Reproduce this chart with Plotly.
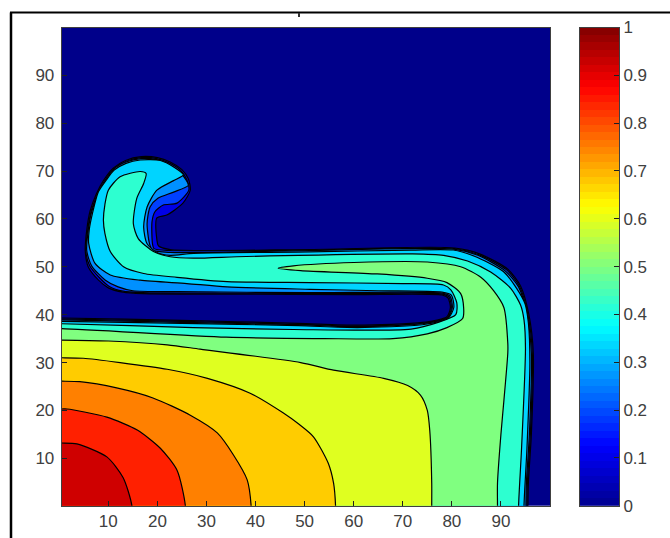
import plotly.graph_objects as go

# Contour outlines, in data units (x, y)
level_1 = [(0.5,39.3),(25,38.8),(48.7,38.2),(60.8,37.8),(74,38.4),(79,39.6),(79.7,41.5),(79.2,43.5),(78,44.1),(60,44.2),(34,44.3),(17,44.4),(13,44.7),(10,45.6),(8,47.2),(5.9,50),(5.3,53.4),(5.6,57.6),(6.3,61.7),(7.6,65.3),(9,68),(11,70.6),(13.5,72.2),(16.7,73),(20,72.8),(22.6,71.9),(25,70.3),(26.3,68.4),(26.7,66),(25.2,63.3),(21.9,60.8),(19.9,60.2),(19.9,55.6),(20.2,54.4),(22.6,53.6),(51.1,53.6),(80.6,53.9),(85.9,52.6),(91.4,49.5),(94,46),(95.7,40),(96.6,32),(96.2,15),(95.6,5),(95.5,0.1)]
level_2 = [(0.5,39.1),(25,38.6),(48.7,38),(60.8,37.6),(74,38.2),(79.2,39.5),(79.9,41.5),(79.4,43.7),(78,44.3),(60,44.4),(34,44.5),(17,44.6),(13,44.9),(10.2,45.9),(8.4,47.5),(6.2,50.2),(5.4,53.4),(5.8,57.6),(6.5,61.6),(7.8,65.2),(9.2,67.9),(11.1,70.5),(13.6,72),(16.7,72.8),(19.9,72.6),(22.4,71.7),(24.8,70.1),(26,68.2),(26.4,66),(24,63.3),(21.2,62.9),(19.5,61.5),(18.9,59.4),(19,54.8),(19.3,53.8),(22.6,53.4),(51.1,53.5),(80.5,53.8),(85.6,52.5),(91.1,49.4),(93.8,45.9),(95.5,40),(96.4,32),(96,15),(95.4,5),(95.3,0.1)]
level_3 = [(0.5,38.9),(25,38.4),(48.7,37.9),(60.8,37.5),(74,38.1),(79.2,39.4),(80.1,41.5),(79.6,43.9),(78,44.5),(51.1,44.6),(24,44.8),(15,45),(12,45.8),(9.4,47.2),(6.6,50.2),(5.6,53.4),(5.9,57.6),(6.6,61.5),(7.9,65.1),(9.3,67.8),(11.1,70.4),(13.6,71.9),(16.6,72.6),(19.8,72.4),(22,71.5),(24.5,69.9),(25.8,68.2),(26.3,67),(23.3,65.6),(20.1,64.3),(18.5,62.5),(17.9,59),(18.4,54.8),(19,53.5),(22.6,53),(51.1,53.4),(80.4,53.7),(85.3,52.4),(90.8,49.2),(93.6,45.8),(95.3,40),(96.2,32),(95.8,15),(95.2,5),(95.1,0.1)]
level_4 = [(0.5,38.6),(25,38.2),(48.7,37.7),(60.8,37.3),(74,37.9),(79.2,39.2),(80.4,41.5),(79.9,44.1),(78,44.7),(65,45),(51.1,45.3),(34.2,45.8),(26,46.5),(16.5,47.2),(10.4,48.3),(7.3,50.7),(6,54.9),(6.1,57.6),(6.8,61.3),(8,65.7),(9.5,68),(11.2,70.2),(13.6,71.6),(16.5,72.3),(20.6,72.2),(23.4,70.8),(25.3,69.2),(23.3,68),(19.9,66),(17.9,62.5),(17.2,58.3),(17.9,54.8),(19.9,53),(22.6,52.4),(27.4,52.8),(51.1,53.1),(71.7,53.5),(80.3,53.5),(84.6,52.2),(90.5,49),(93.2,45.5),(94.9,42.3),(95.6,38.2),(95.9,30),(95.3,12),(94.7,0.1)]
level_5 = [(0.5,38.1),(27.3,37.3),(47.7,36.9),(71.7,37),(77.2,38.4),(80.8,40),(81,42.5),(79.8,45.2),(78.3,46.2),(70,46.5),(51.1,46.7),(34.2,46.9),(24,47.8),(17.2,48.6),(13.1,50),(10.4,53.2),(9.3,57),(9,59.7),(9.3,63),(10,66),(12.4,68.8),(16.5,69.9),(17.7,69.5),(17.2,67.4),(15.8,64.3),(15.1,59),(16.1,55.9),(19.2,53.2),(22.6,52.1),(27.4,51.8),(36.2,52.1),(48.7,52.4),(72,52.7),(78.3,52.4),(83.2,51.2),(87.9,48.9),(92,45.5),(94,42),(94.7,38.9),(95,33),(94.2,12),(93.6,0.1)]
level_6 = [(0.5,37.1),(34,35.3),(54,35),(68,35),(75,36),(79,37.3),(82.2,39.2),(82.4,41.5),(81.8,44.4),(79,46.7),(75,47.6),(64.8,48.5),(49.2,49.2),(44.6,49.7),(47.7,50.2),(60,50.9),(75,51),(81.8,50),(85.9,47.8),(88.5,45),(90.6,41.5),(91.4,34),(91.4,32),(90.6,22),(90,15),(89.3,4.8),(89.3,0.1)]
level_7 = [(0.5,34.7),(10,34.5),(22,33.7),(28.7,32.8),(49.2,30),(55.9,28.4),(66.1,26.7),(71,25.2),(73.6,23.2),(75,20),(75.5,15.8),(75.9,4.8),(75.9,0.1)]
level_8 = [(0.5,31),(4.9,30.9),(12.4,30),(22,28.6),(30.2,26.7),(38.9,23.6),(45.6,19.5),(49,17),(51.8,14.5),(54.8,9),(55.9,4.8),(56.3,0.1)]
level_9 = [(0.5,26.1),(4.2,26),(11.7,24.7),(19.1,22.6),(26.7,19),(32.2,15.3),(35.5,10.7),(38.3,5.5),(39.1,0.1)]
level_10 = [(0.5,20.3),(1.6,20.3),(9.7,18.6),(15.9,15.9),(20.6,12.1),(24,7.5),(25.7,0.1)]
level_11 = [(0.5,13.2),(3.6,13),(9.7,10.3),(13,6),(14.8,0.1)]

levels = [level_1, level_2, level_3, level_4, level_5, level_6, level_7, level_8, level_9, level_10, level_11]
band_colors = ["#0000e6", "#0040ff", "#0090ff", "#00d4ff", "#2dffd0", "#80ff80",
               "#dfff20", "#ffcc00", "#ff8000", "#ff2000", "#cf0000"]
tick_values = [10, 20, 30, 40, 50, 60, 70, 80, 90]
colorbar_ticks = [0, 0.1, 0.2, 0.3, 0.4, 0.5, 0.6, 0.7, 0.8, 0.9, 1]
colorbar_labels = ["0", "0.1", "0.2", "0.3", "0.4", "0.5", "0.6", "0.7", "0.8", "0.9", "1"]
jet = [[0, "rgb(0,0,143)"], [0.125, "rgb(0,0,255)"], [0.375, "rgb(0,255,255)"],
       [0.625, "rgb(255,255,0)"], [0.875, "rgb(255,0,0)"], [1, "rgb(128,0,0)"]]
colorbar_steps = [(i + 0.5) / 64 for i in range(64)]

W, H = 670, 538
font = dict(family="Liberation Sans, Arial, sans-serif", size=17, color="#404040")
fig = go.Figure()
for pts, col in zip(levels, band_colors):
    # run each outline past the axes so that it leaves the frame cleanly and closes off-plot
    first, last = pts[0], pts[-1]
    xs = [-6] + [p[0] for p in pts] + [last[0], -6]
    ys = [first[1]] + [p[1] for p in pts] + [-6, -6]
    fig.add_trace(go.Scatter(x=xs, y=ys, mode="lines", fill="toself", fillcolor=col,
                             line=dict(color="black", width=1.2, shape="spline", smoothing=0.7),
                             hoverinfo="skip", showlegend=False))
fig.add_trace(go.Heatmap(z=[[v] for v in colorbar_steps], x=[0.5], y=colorbar_steps,
                         xaxis="x2", yaxis="y2", colorscale=jet, zmin=0, zmax=1,
                         showscale=False, hoverinfo="skip"))

axis_style = dict(showgrid=False, zeroline=False, ticks="inside", ticklen=5, tickwidth=1,
                  tickcolor="#202020", showline=True, linecolor="#404040", linewidth=1,
                  mirror=True, tickfont=font, automargin=False)
fig.update_layout(
    width=W, height=H, margin=dict(l=0, r=0, t=0, b=0), paper_bgcolor="white",
    plot_bgcolor="#00008a", showlegend=False,
    xaxis=dict(domain=[61.7 / W, 550 / W], range=[0.5, 100], tickvals=tick_values, **axis_style),
    yaxis=dict(domain=[1 - 505.7 / H, 1 - 27.5 / H], range=[0.1, 99.98], tickvals=tick_values,
               ticklabelstandoff=3, **axis_style),
    xaxis2=dict(domain=[580 / W, 619 / W], range=[0, 1], anchor="y2", showticklabels=False, automargin=False,
                showgrid=False, zeroline=False, ticks="", showline=True, linecolor="#404040", mirror=True),
    yaxis2=dict(domain=[1 - 505.7 / H, 1 - 27.5 / H], range=[0, 1], anchor="x2", side="right",
                tickvals=colorbar_ticks, ticktext=colorbar_labels, **axis_style),
    shapes=[
        dict(type="line", xref="paper", yref="paper", x0=11 / W, x1=11 / W, y0=0, y1=1 - 12.5 / H,
             line=dict(color="black", width=2.5)),
        dict(type="line", xref="paper", yref="paper", x0=10 / W, x1=1, y0=1 - 12.5 / H, y1=1 - 12.5 / H,
             line=dict(color="black", width=2)),
        dict(type="line", xref="paper", yref="paper", x0=299 / W, x1=299 / W, y0=1 - 13 / H, y1=1 - 17 / H,
             line=dict(color="#303030", width=2)),
    ],
)
fig.write_html("out.html", config=dict(displayModeBar=False),
               post_script="document.body.style.margin='0';document.body.style.overflow='hidden';")
